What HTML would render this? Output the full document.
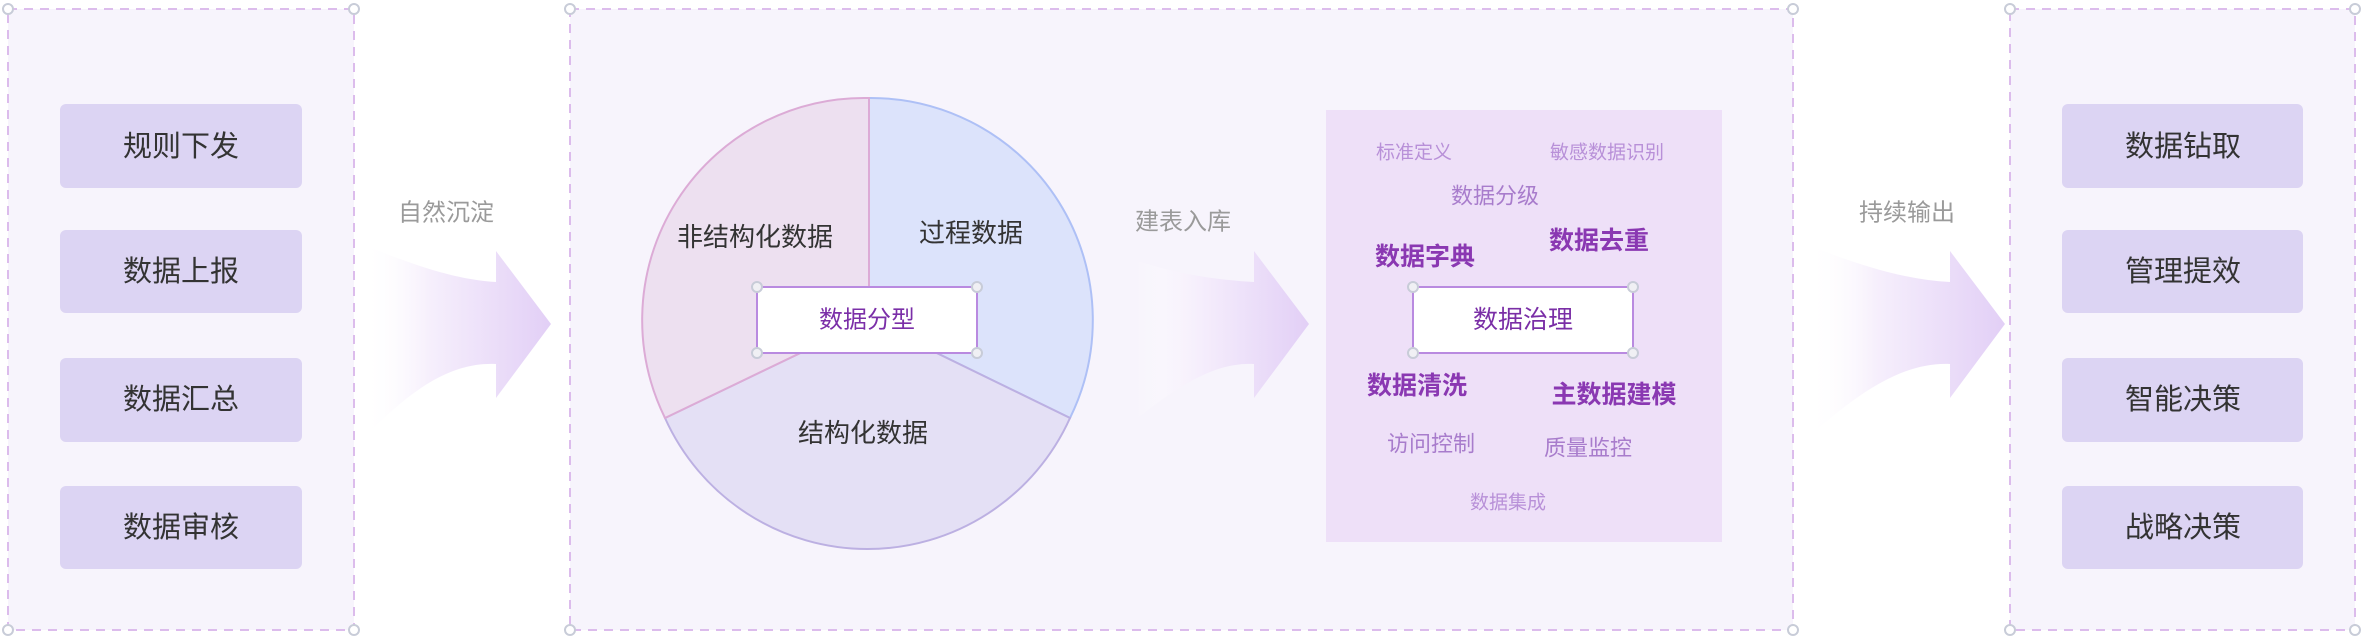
<!DOCTYPE html>
<html><head><meta charset="utf-8"><style>
html,body{margin:0;padding:0;background:#fff;width:2364px;height:640px;overflow:hidden}
svg text{font-family:"Liberation Sans","Noto Sans CJK SC",sans-serif}
</style></head><body>
<svg width="2364" height="640" viewBox="0 0 2364 640" xmlns="http://www.w3.org/2000/svg">
<defs>
<linearGradient id="ag" x1="0" x2="1" y1="0" y2="0">
<stop offset="0" stop-color="#ffffff" stop-opacity="0"/>
<stop offset="0.35" stop-color="#f6effc"/>
<stop offset="1" stop-color="#e2cff6"/>
</linearGradient>
</defs>
<!-- panels -->
<g fill="#f7f4fc" stroke="#dcbcec" stroke-width="2" stroke-dasharray="9,7">
<rect x="8" y="9" width="346" height="621"/>
<rect x="570" y="9" width="1223" height="621"/>
<rect x="2010" y="9" width="345" height="621"/>
</g>
<g fill="#fff" stroke="#c8ccd8" stroke-width="2">
<circle cx="8" cy="9" r="5"/><circle cx="354" cy="9" r="5"/><circle cx="8" cy="630" r="5"/><circle cx="354" cy="630" r="5"/>
<circle cx="570" cy="9" r="5"/><circle cx="1793" cy="9" r="5"/><circle cx="570" cy="630" r="5"/><circle cx="1793" cy="630" r="5"/>
<circle cx="2010" cy="9" r="5"/><circle cx="2355" cy="9" r="5"/><circle cx="2010" cy="630" r="5"/><circle cx="2355" cy="630" r="5"/>
</g>
<!-- left boxes -->
<g fill="#dcd4f3">
<rect x="60" y="104" width="242" height="84" rx="6"/>
<rect x="60" y="230" width="242" height="83" rx="6"/>
<rect x="60" y="358" width="242" height="84" rx="6"/>
<rect x="60" y="486" width="242" height="83" rx="6"/>
<rect x="2062" y="104" width="241" height="84" rx="6"/>
<rect x="2062" y="230" width="241" height="83" rx="6"/>
<rect x="2062" y="358" width="241" height="84" rx="6"/>
<rect x="2062" y="486" width="241" height="83" rx="6"/>
</g>
<g font-size="29" fill="#333" text-anchor="middle" dominant-baseline="central">
<text x="181" y="147">规则下发</text>
<text x="181" y="272">数据上报</text>
<text x="181" y="400">数据汇总</text>
<text x="181" y="528">数据审核</text>
<text x="2183" y="147">数据钻取</text>
<text x="2183" y="272">管理提效</text>
<text x="2183" y="400">智能决策</text>
<text x="2183" y="528">战略决策</text>
</g>
<!-- arrows -->
<path d="M364,245 C420,268 460,280 496,282 L496,251 L551,324 L496,398 L496,364 C450,362 410,390 364,438 Z" fill="url(#ag)"/>
<path d="M1135,260 C1180,275 1220,280 1254,282 L1254,251 L1309,324 L1254,398 L1254,364 C1215,362 1180,385 1135,420 Z" fill="url(#ag)"/>
<path d="M1808,245 C1865,268 1910,280 1950,282 L1950,251 L2005,324 L1950,398 L1950,364 C1905,362 1860,390 1808,438 Z" fill="url(#ag)"/>
<g font-size="24" fill="#9a9a9a" text-anchor="middle" dominant-baseline="central">
<text x="446" y="213">自然沉淀</text>
<text x="1183" y="222">建表入库</text>
<text x="1907" y="213">持续输出</text>
</g>
<!-- pie -->
<path d="M869,320 L869,98 A222,222 0 0,1 1070,418 Z" fill="#dce3fb" stroke="#aec0f6" stroke-width="2"/>
<path d="M869,320 L1070,418 A222,222 0 0,1 665,418 Z" fill="#e4e0f5" stroke="#bcb0e2" stroke-width="2"/>
<path d="M869,320 L665,418 A222,222 0 0,1 869,98 Z" fill="#ede0f0" stroke="#dcabd6" stroke-width="2"/>
<g font-size="26" fill="#333" text-anchor="middle" dominant-baseline="central">
<text x="755" y="237">非结构化数据</text>
<text x="971" y="233">过程数据</text>
<text x="863" y="433">结构化数据</text>
</g>
<rect x="757" y="287" width="220" height="66" fill="#fff" stroke="#b98ae0" stroke-width="2"/>
<g fill="#f0f0f4" stroke="#c8ccd8" stroke-width="2">
<circle cx="757" cy="287" r="5"/><circle cx="977" cy="287" r="5"/><circle cx="757" cy="353" r="5"/><circle cx="977" cy="353" r="5"/>
</g>
<text x="867" y="320" font-size="24" fill="#7b2fa8" text-anchor="middle" dominant-baseline="central">数据分型</text>
<!-- governance -->
<rect x="1326" y="110" width="396" height="432" fill="#eee0f8"/>
<g text-anchor="middle" dominant-baseline="central">
<text x="1414" y="153" font-size="19" fill="#b890d8">标准定义</text>
<text x="1607" y="153" font-size="19" fill="#b890d8">敏感数据识别</text>
<text x="1495" y="196" font-size="22" fill="#a87ccc">数据分级</text>
<text x="1425" y="257" font-size="25" font-weight="bold" fill="#8a38b2">数据字典</text>
<text x="1599" y="241" font-size="25" font-weight="bold" fill="#8a38b2">数据去重</text>
<text x="1417" y="386" font-size="25" font-weight="bold" fill="#8a38b2">数据清洗</text>
<text x="1614" y="395" font-size="25" font-weight="bold" fill="#8a38b2">主数据建模</text>
<text x="1431" y="444" font-size="22" fill="#a87ccc">访问控制</text>
<text x="1588" y="448" font-size="22" fill="#a87ccc">质量监控</text>
<text x="1508" y="503" font-size="19" fill="#b890d8">数据集成</text>
</g>
<rect x="1413" y="287" width="220" height="66" fill="#fff" stroke="#b98ae0" stroke-width="2"/>
<g fill="#f0f0f4" stroke="#c8ccd8" stroke-width="2">
<circle cx="1413" cy="287" r="5"/><circle cx="1633" cy="287" r="5"/><circle cx="1413" cy="353" r="5"/><circle cx="1633" cy="353" r="5"/>
</g>
<text x="1523" y="320" font-size="25" fill="#7a2ea6" text-anchor="middle" dominant-baseline="central">数据治理</text>
</svg>
</body></html>
